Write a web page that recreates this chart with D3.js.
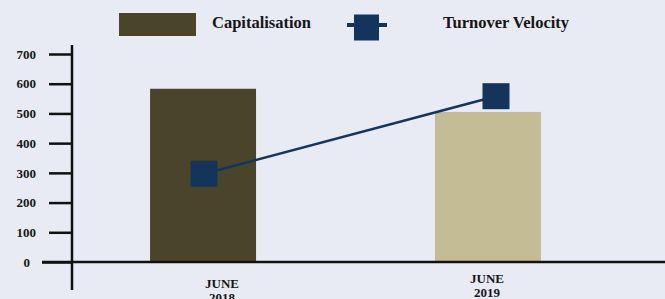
<!DOCTYPE html>
<html>
<head>
<meta charset="utf-8">
<script src="https://cdn.jsdelivr.net/npm/d3@7"></script>
<style>
  html, body { margin: 0; padding: 0; background: #e8eaf4; }
  svg { display: block; }
  text { font-family: "Liberation Serif", "Times New Roman", serif; font-weight: bold; fill: #161616; }
</style>
</head>
<body>
<svg id="chart" width="665" height="299"></svg>
<script>
// data
const periods = ["JUNE 2018", "JUNE 2019"];
const capitalisation = [583, 505];
const turnoverVelocity = [297, 558];
const yTicks = [0, 100, 200, 300, 400, 500, 600, 700];
const barColors = ["#4a452a", "#c4bc94"];
const lineColor = "#13355c";

var svg = d3.select("#chart");

var y = d3.scaleLinear().domain([0, 700]).range([262, 54]);

// bars sit in bands, the line markers and labels are a bit off the band centres
var x = d3.scaleBand().domain(periods).range([72, 619])
  .paddingInner(0.628).paddingOuter(0.274);
var xLine = d3.scalePoint().domain(periods).range([204, 496]);
var xLabel = d3.scalePoint().domain(periods).range([222, 487]);

// bars
svg.append("g")
  .selectAll("rect")
  .data(periods)
  .join("rect")
  .attr("x", (d) => x(d))
  .attr("width", x.bandwidth())
  .attr("y", (d, i) => y(capitalisation[i]))
  .attr("height", (d, i) => y(0) - y(capitalisation[i]))
  .attr("fill", (d, i) => barColors[i]);

// y axis
var yAxis = d3.axisLeft(y).tickValues(yTicks).tickSize(23).tickFormat(d3.format("d"));
var gy = svg.append("g").attr("transform", "translate(72,0)").call(yAxis);
gy.select(".domain").remove();
gy.selectAll(".tick line").attr("stroke", "#111").attr("stroke-width", 2.5);
gy.selectAll(".tick text")
  .attr("x", -36)
  .attr("font-size", 13)
  .attr("font-family", "Liberation Serif, serif")
  .attr("font-weight", "bold")
  .attr("fill", "#161616");
gy.selectAll(".tick").filter((d) => d === 0).select("line").attr("x2", -30);
gy.selectAll(".tick").filter((d) => d === 0).select("text").attr("x", -42);

svg.append("line")
  .attr("x1", 72).attr("x2", 72)
  .attr("y1", 45).attr("y2", 290)
  .attr("stroke", "#111").attr("stroke-width", 2.5);

// x axis line
svg.append("line")
  .attr("x1", 42).attr("x2", 665)
  .attr("y1", y(0)).attr("y2", y(0))
  .attr("stroke", "#111").attr("stroke-width", 2.5);

// x labels (two lines each)
var xl = svg.append("g")
  .selectAll("text")
  .data(periods)
  .join("text")
  .attr("text-anchor", "middle")
  .attr("font-size", 13)
  .attr("y", (d, i) => (i === 0 ? 288 : 283));
xl.selectAll("tspan")
  .data((d) => d.split(" "))
  .join("tspan")
  .attr("x", function () { return xLabel(this.parentNode.__data__); })
  .attr("dy", (d, i) => (i === 0 ? 0 : 14))
  .text((d) => d);

// turnover velocity line
var line = d3.line()
  .x((d, i) => xLine(periods[i]))
  .y((d) => y(d));
svg.append("path")
  .datum(turnoverVelocity)
  .attr("d", line)
  .attr("fill", "none")
  .attr("stroke", lineColor)
  .attr("stroke-width", 2.5);

svg.append("g")
  .selectAll("rect")
  .data(turnoverVelocity)
  .join("rect")
  .attr("x", (d, i) => xLine(periods[i]) - 13.5)
  .attr("y", (d) => y(d) - 13)
  .attr("width", 27)
  .attr("height", 26)
  .attr("fill", lineColor);

// legend
var legend = svg.append("g");
legend.append("rect")
  .attr("x", 119).attr("y", 13).attr("width", 77).attr("height", 23)
  .attr("fill", barColors[0]);
legend.append("text")
  .attr("x", 212).attr("y", 28)
  .attr("font-size", 16.5)
  .text("Capitalisation");
legend.append("line")
  .attr("x1", 347).attr("x2", 387).attr("y1", 25).attr("y2", 25)
  .attr("stroke", lineColor).attr("stroke-width", 4);
legend.append("rect")
  .attr("x", 354).attr("y", 14.5).attr("width", 25).attr("height", 26)
  .attr("fill", lineColor);
legend.append("text")
  .attr("x", 443).attr("y", 28)
  .attr("font-size", 16.5)
  .text("Turnover Velocity");
</script>
</body>
</html>
